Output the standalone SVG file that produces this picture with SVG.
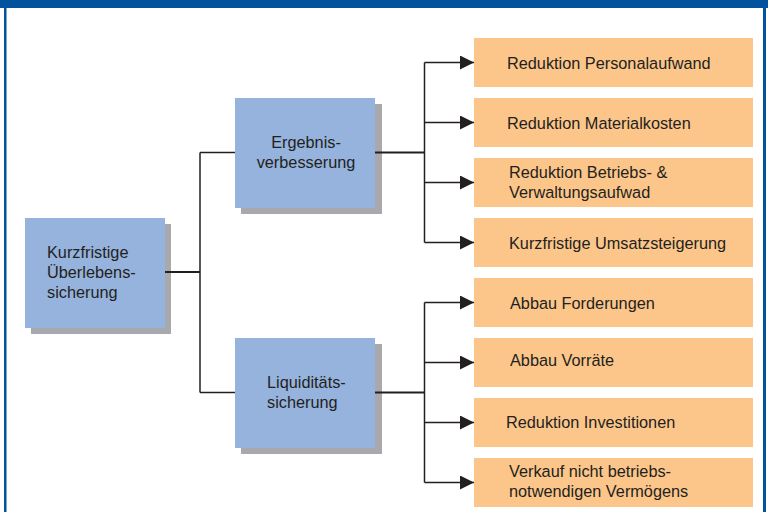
<svg xmlns="http://www.w3.org/2000/svg" width="768" height="512" viewBox="0 0 768 512">
  <defs>
    <style>
      .t{font-family:"Liberation Sans",Arial,sans-serif;font-size:16.3px;fill:#231F20}
      .blue{fill:#95B3DD}
      .sh{fill:#A7A9AC}
      .or{fill:#FCC68A}
      .ln{stroke:#231F20;stroke-width:1.5;fill:none}
      .lnb{stroke:#231F20;stroke-width:2.2;fill:none}
    </style>
    <marker id="ah" viewBox="0 0 14 14" refX="14" refY="7" markerWidth="14" markerHeight="14" markerUnits="userSpaceOnUse" orient="auto">
      <path d="M0,0 L14,7 L0,14 Z" fill="#231F20"/>
    </marker>
  </defs>
  <rect x="0" y="0" width="768" height="512" fill="#FFFFFF"/>
  <rect x="0" y="0" width="768" height="8" fill="#03529E"/>
  <rect x="4" y="0" width="2.5" height="512" fill="#03529E"/>
  <rect x="763" y="0" width="3" height="512" fill="#03529E"/>

  <g id="kurzfristige">
    <rect class="sh" x="31" y="224" width="140" height="110"/>
    <rect class="blue" x="25" y="218" width="140" height="110"/>
    <text class="t" x="47" y="258">Kurzfristige</text>
    <text class="t" x="47" y="278">Überlebens-</text>
    <text class="t" x="47" y="298">sicherung</text>
  </g>

  <g id="ergebnis">
    <rect class="sh" x="241" y="104" width="141" height="110"/>
    <rect class="blue" x="235" y="98" width="140" height="110"/>
    <text class="t" x="306" y="148" text-anchor="middle">Ergebnis-</text>
    <text class="t" x="306" y="168" text-anchor="middle">verbesserung</text>
  </g>

  <g id="liquiditaet">
    <rect class="sh" x="241" y="344" width="141" height="110"/>
    <rect class="blue" x="235" y="338" width="140" height="110"/>
    <text class="t" x="267" y="388">Liquiditäts-</text>
    <text class="t" x="267" y="408">sicherung</text>
  </g>

  <g id="r1">
    <rect class="or" x="474" y="38" width="279" height="49"/>
    <text class="t" x="507" y="69">Reduktion Personalaufwand</text>
  </g>
  <g id="r2">
    <rect class="or" x="474" y="98" width="279" height="49"/>
    <text class="t" x="507" y="129">Reduktion Materialkosten</text>
  </g>
  <g id="r3">
    <rect class="or" x="474" y="158" width="279" height="49"/>
    <text class="t" x="509" y="178">Reduktion Betriebs- &amp;</text>
    <text class="t" x="509" y="198">Verwaltungsaufwad</text>
  </g>
  <g id="r4">
    <rect class="or" x="474" y="218" width="279" height="49"/>
    <text class="t" x="509" y="249">Kurzfristige Umsatzsteigerung</text>
  </g>
  <g id="l1">
    <rect class="or" x="474" y="278" width="279" height="49"/>
    <text class="t" x="510" y="309">Abbau Forderungen</text>
  </g>
  <g id="l2">
    <rect class="or" x="474" y="338" width="279" height="49"/>
    <text class="t" x="510" y="366">Abbau Vorräte</text>
  </g>
  <g id="l3">
    <rect class="or" x="474" y="398" width="279" height="49"/>
    <text class="t" x="506" y="428">Reduktion Investitionen</text>
  </g>
  <g id="l4">
    <rect class="or" x="474" y="458" width="279" height="49"/>
    <text class="t" x="509" y="477">Verkauf nicht betriebs-</text>
    <text class="t" x="509" y="497">notwendigen Vermögens</text>
  </g>

  <g id="connectors">
    <path class="lnb" d="M165,272 H200"/>
    <path class="ln" d="M200,152.5 V392.5"/>
    <path class="ln" d="M200,152.5 H235"/>
    <path class="ln" d="M200,392.5 H235"/>
    <path class="lnb" d="M375,152.5 H425"/>
    <path class="lnb" d="M375,392.5 H425"/>
    <path class="ln" d="M424.5,62.5 V242.5"/>
    <path class="ln" d="M424.5,302.5 V482.5"/>
    <path class="ln" marker-end="url(#ah)" d="M424.5,62.5 H474"/>
    <path class="ln" marker-end="url(#ah)" d="M424.5,122.5 H474"/>
    <path class="ln" marker-end="url(#ah)" d="M424.5,182.5 H474"/>
    <path class="ln" marker-end="url(#ah)" d="M424.5,242.5 H474"/>
    <path class="ln" marker-end="url(#ah)" d="M424.5,302.5 H474"/>
    <path class="ln" marker-end="url(#ah)" d="M424.5,362.5 H474"/>
    <path class="ln" marker-end="url(#ah)" d="M424.5,422.5 H474"/>
    <path class="ln" marker-end="url(#ah)" d="M424.5,482.5 H474"/>
  </g>
</svg>
